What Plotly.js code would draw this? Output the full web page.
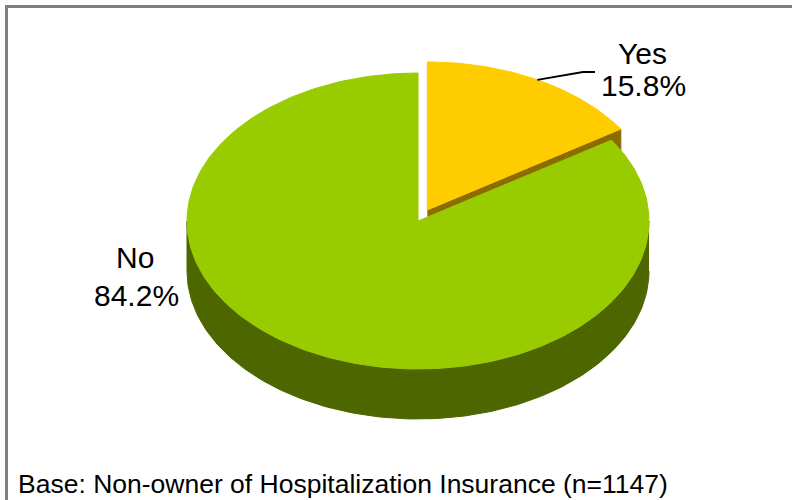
<!DOCTYPE html>
<html>
<head>
<meta charset="utf-8">
<script src="https://cdn.plot.ly/plotly-3.0.1.min.js"></script>
<style>
  html, body { margin: 0; padding: 0; background: #ffffff; }
  #chart { width: 792px; height: 500px; }
</style>
</head>
<body>
<div id="chart"></div>
<script>
// ---- data ----
const categories = ['Yes', 'No'];
const values = [15.8, 84.2];
const topColors = ['#FFCC00', '#99CC00'];
const sideColors = ['#8C6C00', '#4D6600'];
const pulls = [0.085, 0];
const footnote = 'Base: Non-owner of Hospitalization Insurance (n=1147)';

// ---- geometry of the tilted pie (pixel space of the plot) ----
const CX = 418, CY = 221, RX = 231, RY = 148, DEPTH = 50;
const rad = d => d * Math.PI / 180;

const total = values.reduce((a, b) => a + b, 0);
const slices = [];
let cum = 0;
values.forEach((v, i) => {
  const a0 = 90 - cum / total * 360;
  const a1 = a0 - v / total * 360;
  cum += v;
  const mid = (a0 + a1) / 2;
  const ox = pulls[i] * RX * Math.cos(rad(mid));
  const oy = -pulls[i] * RY * Math.sin(rad(mid));
  slices.push({ a0, a1, mid, ox, oy, i });
});

function pt(s, a, dz) {
  return [CX + s.ox + RX * Math.cos(rad(a)), CY + s.oy - RY * Math.sin(rad(a)) + (dz || 0)];
}
function arc(s, from, to, dz) {
  const n = Math.max(2, Math.ceil(Math.abs(to - from)));
  const xs = [], ys = [];
  for (let k = 0; k <= n; k++) {
    const a = from + (to - from) * k / n;
    const p = pt(s, a, dz);
    xs.push(p[0]); ys.push(p[1]);
  }
  return [xs, ys];
}
function poly(xs, ys, color) {
  return {
    type: 'scatter', mode: 'lines', x: xs, y: ys, fill: 'toself',
    fillcolor: color, line: { color: color, width: 1 },
    hoverinfo: 'skip', showlegend: false
  };
}

const traces = [];
// side walls (front half only) and visible radial faces
slices.forEach(s => {
  const c = sideColors[s.i];
  for (let k = -1; k <= 1; k++) {
    const lo = Math.max(s.a1, -180 + 360 * k);
    const hi = Math.min(s.a0, 0 + 360 * k);
    if (hi > lo) {
      const top = arc(s, hi, lo, 0);
      const bot = arc(s, lo, hi, DEPTH);
      traces.push(poly(top[0].concat(bot[0]), top[1].concat(bot[1]), c));
    }
  }
  const faces = [];
  if (Math.cos(rad(s.a0)) < -1e-6) faces.push(s.a0);
  if (Math.cos(rad(s.a1)) > 1e-6) faces.push(s.a1);
  faces.forEach(a => {
    const cx = CX + s.ox, cy = CY + s.oy;
    const r = pt(s, a, 0);
    traces.push(poly([cx, r[0], r[0], cx], [cy, r[1], r[1] + DEPTH, cy + DEPTH], c));
  });
});
// top faces
slices.forEach(s => {
  const a = arc(s, s.a0, s.a1, 0);
  const cx = CX + s.ox, cy = CY + s.oy;
  traces.push(poly([cx].concat(a[0], [cx]), [cy].concat(a[1], [cy]), topColors[s.i]));
});

// leader line for the pulled slice
const ys0 = slices[0];
const lp = pt(ys0, ys0.mid, 0);
traces.push({
  type: 'scatter', mode: 'lines', x: [lp[0], 583, 595], y: [lp[1], 72, 72],
  line: { color: '#000000', width: 1.8 }, hoverinfo: 'skip', showlegend: false
});

const labelFont = { family: 'Arial, "Liberation Sans", sans-serif', size: 30, color: '#000000' };
const pct = v => v.toFixed(1) + '%';
const annotations = [
  { x: 642, y: 53, text: categories[0] },
  { x: 643, y: 85, text: pct(values[0]) },
  { x: 135, y: 257, text: categories[1] },
  { x: 136, y: 295, text: pct(values[1]) }
].map(a => Object.assign({ xref: 'x', yref: 'y', showarrow: false, xanchor: 'center', yanchor: 'middle', font: labelFont }, a));
annotations.push({
  xref: 'x', yref: 'y', x: 16, y: 484, xanchor: 'left', yanchor: 'middle', showarrow: false,
  text: footnote, font: { family: 'Arial, "Liberation Sans", sans-serif', size: 26.5, color: '#000000' }
});

const layout = {
  width: 792, height: 500,
  margin: { l: 0, r: 0, t: 0, b: 0 },
  paper_bgcolor: '#ffffff', plot_bgcolor: '#ffffff',
  xaxis: { range: [0, 792], visible: false, fixedrange: true },
  yaxis: { range: [500, 0], visible: false, fixedrange: true },
  showlegend: false,
  annotations: annotations,
  shapes: [{
    type: 'rect', xref: 'paper', yref: 'paper', layer: 'above',
    x0: 6.5 / 792, x1: 1.2, y0: -0.2, y1: 1 - 6.5 / 500,
    line: { color: '#808080', width: 3 }
  }]
};

Plotly.newPlot('chart', traces, layout, { displayModeBar: false, staticPlot: true });
</script>
</body>
</html>
